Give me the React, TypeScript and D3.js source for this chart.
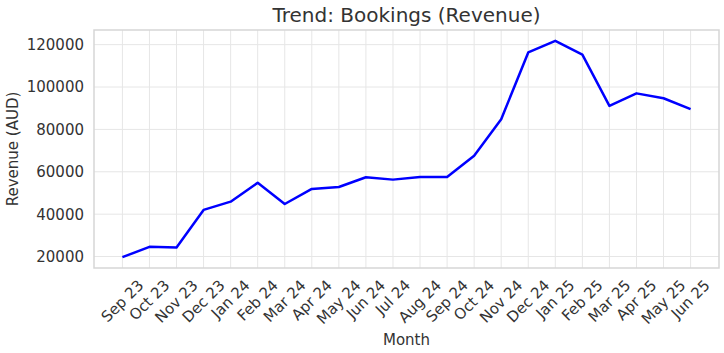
import React, { useEffect, useRef } from "react";
import * as d3 from "d3";

const months = [
  "Sep 23", "Oct 23", "Nov 23", "Dec 23", "Jan 24", "Feb 24", "Mar 24", "Apr 24",
  "May 24", "Jun 24", "Jul 24", "Aug 24", "Sep 24", "Oct 24", "Nov 24", "Dec 24",
  "Jan 25", "Feb 25", "Mar 25", "Apr 25", "May 25", "Jun 25",
];

const revenue = [
  19700, 24600, 24300, 42000, 45900, 54800, 44800, 51900,
  52800, 57400, 56300, 57500, 57500, 67600, 84800, 116300,
  121800, 115300, 91100, 97000, 94700, 89600,
];

const yTicks = [20000, 40000, 60000, 80000, 100000, 120000];

const App = () => {
  const svgRef = useRef<SVGSVGElement>(null);

  useEffect(() => {
    const W = 724;
    const H = 353;
    const margin = { top: 30, right: 5, bottom: 85, left: 94 };
    const width = W - margin.left - margin.right;
    const height = H - margin.top - margin.bottom;
    const font = "DejaVu Sans, sans-serif";
    const textColor = "#333333";

    const root = d3.select(svgRef.current);
    root.selectAll("*").remove();
    root.attr("width", W).attr("height", H);

    const svg = root
      .append("g")
      .attr("transform", `translate(${margin.left},${margin.top})`);

    const n = months.length;
    const padX = (n - 1) * 0.05;
    const x = d3
      .scaleLinear()
      .domain([-padX, n - 1 + padX])
      .range([0, width]);

    const yMin = d3.min(revenue)!;
    const yMax = d3.max(revenue)!;
    const padY = (yMax - yMin) * 0.05;
    const y = d3
      .scaleLinear()
      .domain([yMin - padY, yMax + padY])
      .range([height, 0]);

    // grid
    svg
      .append("g")
      .selectAll("line")
      .data(months.map((_, i) => i))
      .enter()
      .append("line")
      .attr("x1", (d) => x(d))
      .attr("x2", (d) => x(d))
      .attr("y1", 0)
      .attr("y2", height)
      .attr("stroke", "#e6e6e6")
      .attr("stroke-width", 1);

    svg
      .append("g")
      .selectAll("line")
      .data(yTicks)
      .enter()
      .append("line")
      .attr("x1", 0)
      .attr("x2", width)
      .attr("y1", (d) => y(d))
      .attr("y2", (d) => y(d))
      .attr("stroke", "#e6e6e6")
      .attr("stroke-width", 1);

    // frame
    svg
      .append("rect")
      .attr("x", 0)
      .attr("y", 0)
      .attr("width", width)
      .attr("height", height)
      .attr("fill", "none")
      .attr("stroke", "#d6d6d6")
      .attr("stroke-width", 1.5);

    // y tick labels
    svg
      .append("g")
      .selectAll("text")
      .data(yTicks)
      .enter()
      .append("text")
      .attr("x", -10)
      .attr("y", (d) => y(d))
      .attr("dy", "0.36em")
      .attr("text-anchor", "end")
      .attr("font-family", font)
      .attr("font-size", 15)
      .attr("fill", textColor)
      .text((d) => String(d));

    // x tick labels, rotated 45 and centred on the tick
    const xl = svg
      .append("g")
      .selectAll("text")
      .data(months)
      .enter()
      .append("text")
      .attr("text-anchor", "middle")
      .attr("dominant-baseline", "central")
      .attr("font-family", font)
      .attr("font-size", 15)
      .attr("fill", textColor)
      .text((d) => d);

    xl.each(function (_, i) {
      const el = this as SVGTextElement;
      const w = el.getComputedTextLength();
      const half = ((w + 13) * Math.SQRT1_2) / 2;
      d3.select(el).attr(
        "transform",
        `translate(${x(i)},${height + 10 + half}) rotate(-45)`
      );
    });

    // line
    const line = d3
      .line<number>()
      .x((_, i) => x(i))
      .y((d) => y(d));

    svg
      .append("path")
      .datum(revenue)
      .attr("d", line)
      .attr("fill", "none")
      .attr("stroke", "#0000ff")
      .attr("stroke-width", 2.5)
      .attr("stroke-linejoin", "round");

    // title and axis labels
    svg
      .append("text")
      .attr("x", width / 2)
      .attr("y", -8)
      .attr("text-anchor", "middle")
      .attr("font-family", font)
      .attr("font-size", 20)
      .attr("fill", textColor)
      .text("Trend: Bookings (Revenue)");

    svg
      .append("text")
      .attr("x", width / 2)
      .attr("y", H - margin.top - 8)
      .attr("text-anchor", "middle")
      .attr("font-family", font)
      .attr("font-size", 15)
      .attr("fill", textColor)
      .text("Month");

    svg
      .append("text")
      .attr("transform", `translate(${-margin.left + 18},${height / 2}) rotate(-90)`)
      .attr("text-anchor", "middle")
      .attr("font-family", font)
      .attr("font-size", 15)
      .attr("fill", textColor)
      .text("Revenue (AUD)");
  }, []);

  return (
    <svg
      ref={svgRef}
      style={{ position: "absolute", left: 0, top: 0, background: "#fff" }}
    ></svg>
  );
};

export default App;
